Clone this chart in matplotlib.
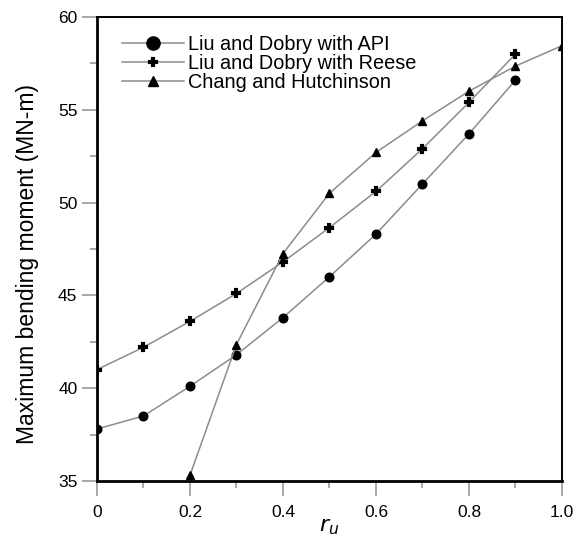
import matplotlib
matplotlib.use("Agg")
import matplotlib.pyplot as plt
from matplotlib.ticker import MultipleLocator

plt.rcParams['font.family'] = ['Liberation Sans', 'DejaVu Sans']

# pore pressure ratio
ru = [0.0, 0.1, 0.2, 0.3, 0.4, 0.5, 0.6, 0.7, 0.8, 0.9]
ru_ch = [0.2, 0.3, 0.4, 0.5, 0.6, 0.7, 0.8, 0.9, 1.0]

# maximum bending moment (MN-m)
liu_api = [37.8, 38.5, 40.1, 41.8, 43.8, 46.0, 48.3, 51.0, 53.7, 56.6]
liu_reese = [41.0, 42.2, 43.6, 45.1, 46.8, 48.65, 50.6, 52.9, 55.4, 58.0]
chang_hutch = [35.3, 42.35, 47.25, 50.5, 52.7, 54.4, 56.0, 57.35, 58.45]

labels = ["Liu and Dobry with API", "Liu and Dobry with Reese", "Chang and Hutchinson"]
xtick_vals = [0, 0.2, 0.4, 0.6, 0.8, 1.0]
xtick_labels = ["0", "0.2", "0.4", "0.6", "0.8", "1.0"]

fig = plt.figure(figsize=(5.77, 5.34), dpi=100)
ax = fig.add_axes([0.168, 0.0993, 0.806, 0.869])

line_c = "#8c8c8c"
ax.plot(ru, liu_api, color=line_c, lw=1.1, marker="o", ms=6.2,
        mfc="black", mec="black", label=labels[0])
ax.plot(ru, liu_reese, color=line_c, lw=1.1, marker="P", ms=6.5,
        mfc="black", mec="black", mew=0.1, label=labels[1])
ax.plot(ru_ch, chang_hutch, color=line_c, lw=1.1, marker="^", ms=5.8,
        mfc="black", mec="black", label=labels[2])

ax.set_xlim(0, 1.0)
ax.set_ylim(35, 60)
ax.set_xticks(xtick_vals)
ax.set_xticklabels(xtick_labels)
ax.xaxis.set_minor_locator(MultipleLocator(0.1))
ax.yaxis.set_major_locator(MultipleLocator(5))
ax.yaxis.set_minor_locator(MultipleLocator(2.5))

ax.tick_params(which="major", direction="out", length=11, width=1.2,
               color="#9a9a9a", labelsize=12.5, top=False, right=False)
ax.tick_params(which="minor", direction="out", length=5, width=1.2,
               color="#9a9a9a", top=False, right=False)
ax.tick_params(axis="x", which="major", pad=6)
ax.tick_params(axis="y", which="major", pad=3)

for side in ["left", "bottom"]:
    ax.spines[side].set_linewidth(2.0)
for side in ["top", "right"]:
    ax.spines[side].set_linewidth(1.4)
for s in ax.spines.values():
    s.set_color("black")

ax.set_ylabel("Maximum bending moment (MN-m)", fontsize=16.5, labelpad=14)
ax.yaxis.label.set_y(0.468)
ax.set_xlabel(r"$r_u$", fontsize=16, labelpad=-2.5)

leg = ax.legend(loc="upper left", bbox_to_anchor=(0.053, 0.962), frameon=False,
                fontsize=14.3, handlelength=3.15, handletextpad=0.2,
                labelspacing=0.0, borderpad=0, borderaxespad=0)
for h, size in zip(leg.legend_handles, [9.5, 7.5, 6.5]):
    h.set_markersize(size)

fig.savefig("out.png", dpi=100)
